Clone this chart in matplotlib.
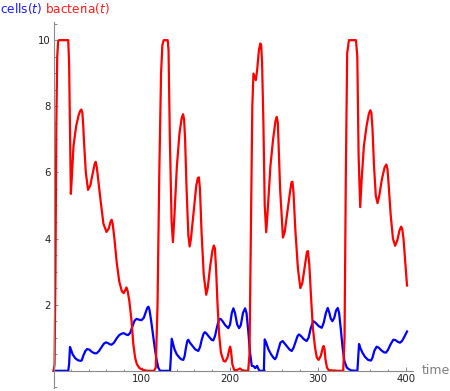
import matplotlib
matplotlib.use("Agg")
import matplotlib.pyplot as plt
from matplotlib.ticker import MultipleLocator, FixedLocator

# bacteria(t) (red)
bact_t = [0, 1.0, 2.0, 3.0, 4.0, 5.0, 6.0, 16.5, 17.5, 18.5, 19.5, 20.5, 22.5, 25.5, 28.5, 30.3, 31.5, 32.6, 33.6, 34.5,
          36.5, 39, 41.5, 44.5, 46.5, 47.7, 49, 50.5, 53.5, 56.5, 60, 62.5, 64.5, 65.8, 67, 69, 71.5, 74.5, 77.5, 79.5,
          81.5, 82.6, 84, 86, 88.5, 90.5, 92.5, 94.5, 97.5, 101.7, 106, 114, 116, 118, 120, 122, 123.5, 125,
          129.5, 130.5, 132, 134, 135.5, 137, 140, 143, 145.5, 147, 148.2, 149.3, 151, 153, 154.5, 156, 159, 162,
          163.8, 165, 166.2, 168, 170.5, 173.3, 175, 178, 180.5, 182, 183.2, 184.5, 186, 188, 190, 193, 195, 197.5,
          199.5, 200.5, 201.5, 203, 205, 208, 211.7, 214, 218, 221, 222.5, 224, 225.7, 227, 228.2, 229.7, 231.2,
          233.2, 234.8, 235.8, 236.8, 238.3, 239.8, 241.5, 243.3, 246.3, 249.3, 252, 253.5, 254.7, 257.3,
          260.5, 262.5, 265.5, 268.5, 270.2, 271.3, 272.5, 274.5, 277.5, 280.3, 282.5, 285.5, 287.8, 289, 290.5,
          292.5, 294.5, 297, 299, 301, 303.5, 305.8, 306.8, 307.8, 308.8, 310.5, 312.5, 322.5, 329, 330.5, 332, 333.5,
          335.5, 343.5, 345, 346.5, 348.3, 350, 352.5, 355.5, 358.2, 359.8, 361, 362.3, 364, 366, 368, 370, 373,
          376, 378, 379.3, 380.7, 383, 385.5, 388, 390.5, 393, 394.8, 396, 397.5, 399.5, 401.5]
bact_v = [0, 0.2, 3, 7.5, 9.5, 9.95, 10, 10, 9.3, 7.2, 5.35, 5.8, 6.8, 7.4, 7.75, 7.87, 7.9, 7.8, 7.4, 6.9,
          6.0, 5.47, 5.6, 6.0, 6.25, 6.32, 6.15, 5.8, 5.1, 4.45, 4.2, 4.3, 4.5, 4.57, 4.45, 4.0, 3.3, 2.7, 2.4, 2.35,
          2.45, 2.52, 2.42, 2.1, 1.5, 0.8, 0.4, 0.2, 0.08, 0.03, 0, 0, 0.1, 2, 6, 9, 9.85, 10,
          10, 9.7, 7, 4.5, 3.89, 4.6, 6.2, 7.2, 7.65, 7.76, 7.6, 7.0, 5.5, 4.1, 3.76, 4.0, 4.8, 5.6,
          5.83, 5.85, 5.5, 4.2, 2.9, 2.3, 2.5, 3.2, 3.65, 3.79, 3.7, 3.1, 2.1, 1.1, 0.55, 0.3, 0.28, 0.4,
          0.65, 0.73, 0.6, 0.2, 0.03, 0.02, 0.07, 0.02, 0, 0, 0.5, 4, 8.0, 8.99, 8.9, 8.79, 9.1,
          9.7, 9.9, 9.85, 9.3, 7.5, 5, 4.19, 4.9, 6.2, 7.0, 7.55, 7.68, 7.5, 5.5,
          4.03, 4.2, 4.8, 5.4, 5.7, 5.72, 5.4, 4.3, 3.1, 2.5, 2.65, 3.2, 3.6, 3.62, 3.2,
          2.2, 1.3, 0.7, 0.4, 0.33, 0.45, 0.7, 0.75, 0.65, 0.35, 0.1, 0.02, 0, 0, 1, 6, 9.6,
          10, 10, 9.5, 6.5, 4.95, 5.8, 6.8, 7.4, 7.78, 7.88, 7.8, 7.3, 6.2, 5.3, 5.07, 5.3, 5.8,
          6.15, 6.24, 6.1, 5.6, 4.7, 4.0, 3.78, 3.95, 4.25, 4.36, 4.3, 4.0, 3.3, 2.58]

# cells(t) (blue)
cells_t = [0, 16.5, 17.5, 18.5, 19.5, 21.5, 24.5, 27.5, 30.5, 32, 33.5, 36, 38.1, 40.5, 43.5, 46.5, 48.8,
           51.5, 54.5, 57, 59.3, 61.5, 64, 65.8, 68.5, 71.5, 74.5, 77, 79.7, 82, 84.5, 87, 89.5, 92, 94.1,
           96.5, 99.7, 102.3, 104.3, 106.3, 107.6, 108.8, 110.8, 112.8, 114.8, 116.8, 118.8, 120.8, 132.2,
           133.1, 134.1, 135.3, 137.3, 139.8, 142.8, 144.8, 147.3, 148.8, 150.3, 151.8, 152.9, 154.8,
           157.8, 160.8, 164.3, 166.3, 168.3, 170.3, 171.8, 173.8, 176.8, 179.3, 181.3, 183.3, 185.8,
           187.8, 189.7, 191.9, 194.9, 198.4, 200.4, 202.4, 204.2, 206, 208.5, 210.7, 212.6, 215.1, 217.5,
           219.1, 221.1, 223.1, 225.1, 227.1, 229.1, 231.1, 233.1, 234.5, 238.8, 239.8, 241.5, 244, 247,
           249.6, 251.5, 253.1, 255.1, 257.6, 260.2, 262.6, 265.6, 268.1, 270.5, 272.6, 275.1, 277.1,
           278.7, 281.1, 284.1, 287.4, 289.6, 292.2, 295.1, 297.7, 301.2, 304.6, 306.8, 309.3, 311.4,
           313.3, 314.8, 316.7, 318.8, 320.8, 322.8, 324.3, 326.3, 328.3, 330.3, 333, 335.3, 338.3, 345.1,
           346, 347, 348.3, 350.8, 353.8, 357.3, 360.6, 362.3, 364.3, 367, 369.3, 372.3, 375.3, 377.6,
           379.8, 382.8, 385.9, 388.3, 390.8, 393.5, 395.8, 398.3, 401.5]
cells_v = [0, 0, 0.2, 0.72, 0.65, 0.5, 0.38, 0.32, 0.3, 0.32, 0.45, 0.6, 0.66, 0.64, 0.57, 0.53, 0.53,
           0.6, 0.72, 0.82, 0.86, 0.84, 0.8, 0.79, 0.85, 0.98, 1.08, 1.12, 1.14, 1.1, 1.08, 1.15, 1.35, 1.52, 1.57,
           1.55, 1.53, 1.6, 1.75, 1.9, 1.94, 1.85, 1.5, 1.1, 0.7, 0.35, 0.1, 0, 0,
           0.4, 0.97, 0.85, 0.65, 0.5, 0.4, 0.35, 0.33, 0.45, 0.7, 0.9, 0.94, 0.85,
           0.75, 0.65, 0.6, 0.72, 0.95, 1.12, 1.17, 1.12, 1.02, 0.94, 0.92, 1.05, 1.35,
           1.55, 1.57, 1.5, 1.38, 1.29, 1.4, 1.75, 1.89, 1.75, 1.4, 1.29, 1.38, 1.75, 1.89,
           1.75, 1.2, 0.55, 0.15, 0.14, 0.08, 0.15, 0.03, 0, 0, 0.95, 0.85, 0.65, 0.5,
           0.4, 0.35, 0.42, 0.62, 0.85, 0.9, 0.82, 0.72, 0.64, 0.6, 0.7, 0.9, 1.05,
           1.1, 1.05, 0.96, 0.9, 1.0, 1.3, 1.5, 1.45, 1.35, 1.3, 1.45, 1.75, 1.9,
           1.75, 1.58, 1.5, 1.6, 1.82, 1.9, 1.75, 1.25, 0.7, 0.3, 0.1, 0.05, 0.01, 0,
           0.4, 0.81, 0.7, 0.55, 0.42, 0.33, 0.31, 0.4, 0.6, 0.73, 0.7, 0.62, 0.56, 0.55,
           0.63, 0.8, 0.94, 0.93, 0.88, 0.85, 0.9, 1.02, 1.19]

x_ticks = [100, 200, 300, 400]
y_ticks = [2, 4, 6, 8, 10]
x_label = "time"

AX = "#8a8a8a"
fig = plt.figure(figsize=(4.5, 3.91), dpi=100)
ax = fig.add_axes([53.7 / 450, 3 / 391, (413 - 53.7) / 450, (388 - 22.3) / 391])
ax.set_xlim(0, 408.3)
ax.set_ylim(-0.52, 10.54)

ax.plot(cells_t, cells_v, color="#0000ff", lw=1.6, clip_on=False, solid_joinstyle="round")
ax.plot(bact_t, bact_v, color="#ff0000", lw=1.6, clip_on=False, solid_joinstyle="round")

for s in ("top", "right"):
    ax.spines[s].set_visible(False)
ax.spines["bottom"].set_position(("data", 0))
for s in ("left", "bottom"):
    ax.spines[s].set_color(AX)
    ax.spines[s].set_linewidth(0.8)

ax.xaxis.set_major_locator(FixedLocator(x_ticks))
ax.yaxis.set_major_locator(FixedLocator(y_ticks))
ax.xaxis.set_minor_locator(MultipleLocator(20))
ax.yaxis.set_minor_locator(MultipleLocator(0.5))
ax.tick_params(which="both", direction="in", color=AX, width=0.7, labelsize=7.3, labelcolor="#222222")
ax.tick_params(which="major", length=3.2, pad=2)
ax.tick_params(which="minor", length=1.8)
ax.set_facecolor("none")

fig.text(421.7 / 450, 1 - 371 / 391, x_label, color="#7f7f7f", fontsize=9, va="center", ha="left")

r = fig.canvas.get_renderer()
t1 = fig.text(0.0, 1 - 13 / 391, r"cells($t$)", color="#1a1aff", fontsize=8.7, va="baseline", ha="left")
bb = t1.get_window_extent(renderer=r)
fig.text((bb.x1 + 3) / fig.bbox.width, 1 - 13 / 391, r"bacteria($t$)", color="#ff1a1a", fontsize=8.7,
         va="baseline", ha="left")

fig.savefig("out.png", dpi=100)
